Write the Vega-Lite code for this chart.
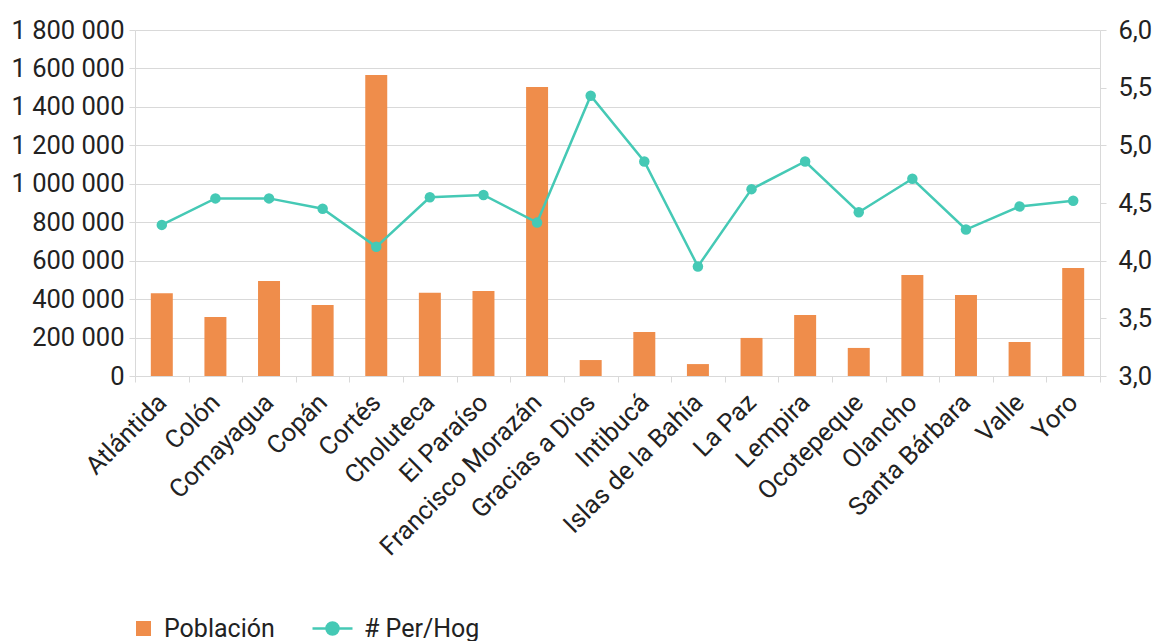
{
  "$schema": "https://vega.github.io/schema/vega-lite/v6.json",
  "width": 965,
  "height": 346,
  "autosize": {"type": "none"},
  "padding": {"left": 135, "top": 30, "right": 55, "bottom": 265},
  "background": "white",
  "config": {
    "view": {"stroke": null},
    "font": "Roboto",
    "axis": {"labelFont": "Roboto", "labelFontSize": 25.5, "labelColor": "#222222", "domainColor": "#d9d9d9", "tickColor": "#d9d9d9", "gridColor": "#d9d9d9", "title": null},
    "legend": {"labelFont": "Roboto", "labelFontSize": 25, "labelColor": "#222222"}
  },
  "data": {"values": [
    {"dep": "Atlántida", "pob": 430000, "hog": 4.31},
    {"dep": "Colón", "pob": 307000, "hog": 4.54},
    {"dep": "Comayagua", "pob": 494000, "hog": 4.54},
    {"dep": "Copán", "pob": 369000, "hog": 4.45},
    {"dep": "Cortés", "pob": 1566000, "hog": 4.12},
    {"dep": "Choluteca", "pob": 433000, "hog": 4.55},
    {"dep": "El Paraíso", "pob": 442000, "hog": 4.57},
    {"dep": "Francisco Morazán", "pob": 1503000, "hog": 4.33},
    {"dep": "Gracias a Dios", "pob": 83000, "hog": 5.43},
    {"dep": "Intibucá", "pob": 229000, "hog": 4.86},
    {"dep": "Islas de la Bahía", "pob": 62000, "hog": 3.95},
    {"dep": "La Paz", "pob": 198000, "hog": 4.62},
    {"dep": "Lempira", "pob": 317000, "hog": 4.86},
    {"dep": "Ocotepeque", "pob": 146000, "hog": 4.42},
    {"dep": "Olancho", "pob": 525000, "hog": 4.71},
    {"dep": "Santa Bárbara", "pob": 421000, "hog": 4.27},
    {"dep": "Valle", "pob": 177000, "hog": 4.47},
    {"dep": "Yoro", "pob": 562000, "hog": 4.52}
  ]},
  "encoding": {
    "x": {
      "field": "dep", "type": "nominal", "sort": null,
      "scale": {"paddingInner": 0, "paddingOuter": 0},
      "axis": {"labelAngle": -45, "labelAlign": "right", "labelBaseline": "middle", "labelPadding": 16, "tickBand": "extent", "tickSize": 6, "grid": false, "labelLimit": 400}
    }
  },
  "layer": [
    {
      "mark": {"type": "bar", "width": {"band": 0.41}},
      "encoding": {
        "y": {
          "field": "pob", "type": "quantitative",
          "scale": {"domain": [0, 1800000]},
          "axis": {"values": [0, 200000, 400000, 600000, 800000, 1000000, 1200000, 1400000, 1600000, 1800000], "labelExpr": "replace(replace(format(datum.value, ',d'), ',', ' '), ',', ' ')", "grid": true, "tickSize": 6, "labelPadding": 5}
        },
        "color": {
          "datum": "Población", "type": "nominal",
          "scale": {"range": ["#EF8D4B"]},
          "legend": {"orient": "none", "legendX": -4, "legendY": 586, "title": null, "symbolType": "square", "symbolSize": 225, "symbolStrokeWidth": 0, "labelOffset": 8, "padding": 0}
        }
      }
    },
    {
      "encoding": {
        "y": {
          "field": "hog", "type": "quantitative",
          "scale": {"domain": [3, 6]},
          "axis": {"orient": "right", "values": [3, 3.5, 4, 4.5, 5, 5.5, 6], "labelExpr": "replace(format(datum.value, '.1f'), '.', ',')", "grid": false, "tickSize": 6, "labelPadding": 12}
        }
      },
      "layer": [
        {
          "mark": {"type": "line", "strokeWidth": 2.5},
          "encoding": {
            "stroke": {
              "datum": "# Per/Hog", "type": "nominal",
              "scale": {"range": ["#45C9B5"]},
              "legend": {"orient": "none", "legendX": 176, "legendY": 577, "title": null, "symbolType": "M-1,0L1,0M0.3,0A0.3,0.3,0,1,1,-0.3,0A0.3,0.3,0,1,1,0.3,0", "symbolSize": 1600, "symbolStrokeWidth": 2.5, "symbolFillColor": "#45C9B5", "labelOffset": 10, "padding": 0,
                "encode": {"symbols": {"update": {"fill": {"value": "#45C9B5"}}}}}
            }
          }
        },
        {
          "mark": {"type": "circle", "size": 110, "color": "#45C9B5", "opacity": 1}
        }
      ]
    }
  ],
  "resolve": {"scale": {"y": "independent"}}
}
